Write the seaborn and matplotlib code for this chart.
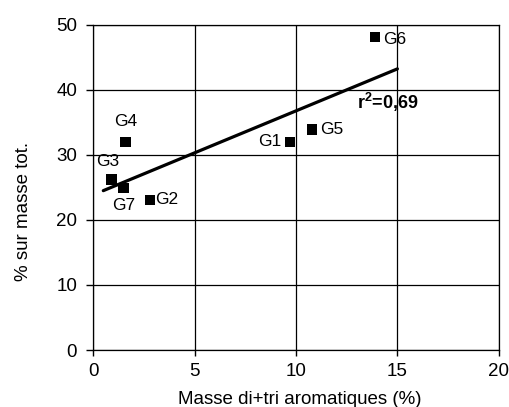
import numpy as np
import pandas as pd
import matplotlib
matplotlib.use("Agg")
import matplotlib.pyplot as plt
import seaborn as sns

labels = ["G1", "G2", "G3", "G4", "G5", "G6", "G7"]
aromatiques = [9.7, 2.8, 0.9, 1.6, 10.8, 13.9, 1.5]
masse_tot = [32.0, 23.1, 26.2, 32.0, 33.9, 48.1, 24.9]
fit_range = [0.5, 15.0]

df = pd.DataFrame({"x": aromatiques, "y": masse_tot, "label": labels})

sns.set_style("ticks", {"axes.grid": True, "grid.color": "black",
                        "axes.edgecolor": "black"})
plt.rcParams["font.family"] = ["Liberation Sans", "DejaVu Sans"]
plt.rcParams["mathtext.fontset"] = "custom"
plt.rcParams["mathtext.rm"] = "Liberation Sans"
plt.rcParams["mathtext.bf"] = "Liberation Sans:bold"
plt.rcParams["text.color"] = "black"
plt.rcParams["axes.labelcolor"] = "black"

fig = plt.figure(figsize=(5.09, 4.07), dpi=100)
ax = fig.add_axes([0.183, 0.140, 0.797, 0.799])

# droite de regression
slope, intercept = np.polyfit(df["x"], df["y"], 1)
r2 = np.corrcoef(df["x"], df["y"])[0, 1] ** 2
line = pd.DataFrame({"x": fit_range})
line["y"] = intercept + slope * line["x"]
sns.lineplot(data=line, x="x", y="y", color="black", linewidth=2.3, ax=ax)

sns.scatterplot(data=df, x="x", y="y", marker="s", s=55, color="black",
                edgecolor="none", ax=ax, zorder=3)

offsets = {
    "G1": (-6, 0, "right", "center"),
    "G2": (4, 0, "left", "center"),
    "G3": (-3, 8, "center", "bottom"),
    "G4": (0, 9, "center", "bottom"),
    "G5": (6, 0, "left", "center"),
    "G6": (6, -2, "left", "center"),
    "G7": (0, -7, "center", "top"),
}
for _, row in df.iterrows():
    dx, dy, ha, va = offsets[row["label"]]
    ax.annotate(row["label"], (row["x"], row["y"]), xytext=(dx, dy),
                textcoords="offset points", ha=ha, va=va, fontsize=12.5)

ax.text(13.0, 38.0, r"r$^{\mathbf{2}}$=" + f"{r2:.2f}".replace(".", ","),
        fontsize=13, fontweight="bold", ha="left", va="center")

ax.set_xlim(0, 20)
ax.set_ylim(0, 50)
ax.set_xticks([0, 5, 10, 15, 20])
ax.set_yticks([0, 10, 20, 30, 40, 50])
ax.grid(True, color="black", linewidth=0.9)
for s in ax.spines.values():
    s.set_visible(True)
    s.set_color("black")
    s.set_linewidth(0.9)
ax.tick_params(axis="y", which="major", left=True, direction="out", length=5,
               width=1.0, color="black", labelcolor="black", labelsize=13.5, pad=6.5)
ax.tick_params(axis="x", which="major", bottom=True, direction="out", length=4,
               width=1.0, color="black", labelcolor="black", labelsize=13.5, pad=5.5)
ax.set_xlabel("Masse di+tri aromatiques (%)", fontsize=13.5)
ax.set_ylabel("% sur masse tot.", fontsize=13.5)
ax.xaxis.set_label_coords(0.51, -0.125)
ax.yaxis.set_label_coords(-0.15, 0.425)

fig.savefig("out.png", dpi=100)
